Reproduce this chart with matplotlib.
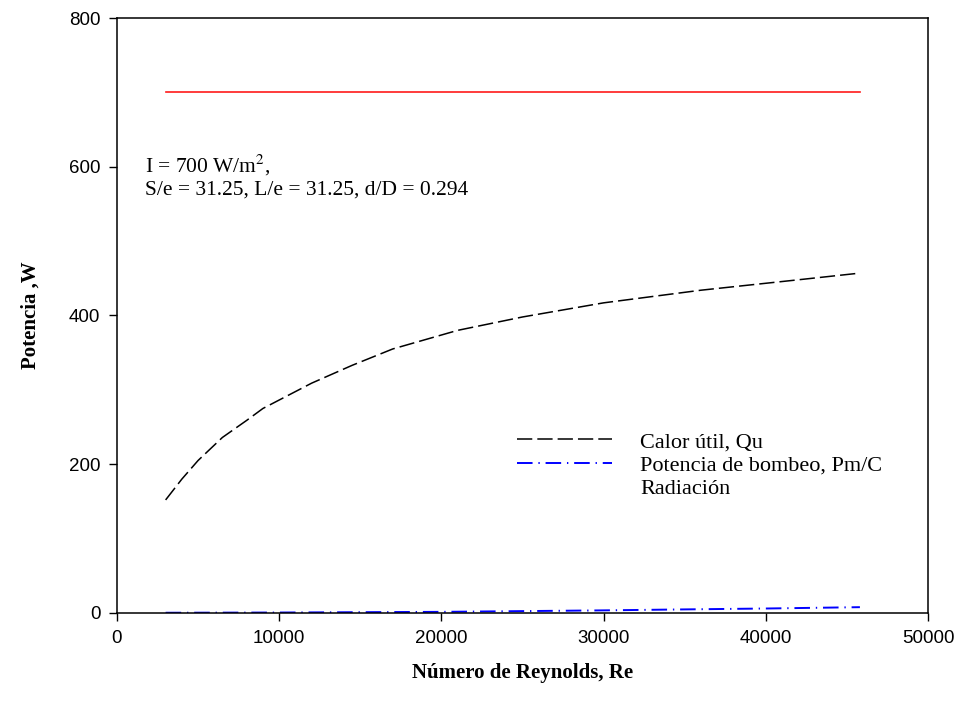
import numpy as np
import matplotlib
matplotlib.use("Agg")
import matplotlib.pyplot as plt
from matplotlib.lines import Line2D

# values
re_qu = [3000, 4000, 5000, 6500, 8000, 9000, 12000, 14500, 17000, 21000, 25000, 30000, 36000, 42000, 45800]
qu = [152, 180, 205, 236, 259, 275, 309, 333, 355, 380, 398, 417, 434, 448, 457]

re_pm = [3000, 10000, 20000, 25000, 30000, 35000, 40000, 45800]
pm = [0.3, 0.6, 1.5, 2.5, 3.5, 4.8, 6.0, 7.8]

re_rad = [3000, 45800]
rad = [700, 700]

serif = "Liberation Serif"
sans = "Liberation Sans"
plt.rcParams["mathtext.fontset"] = "stix"

fig = plt.figure(figsize=(9.61, 7.15), dpi=100)
ax = fig.add_axes([0.1217, 0.1427, 0.844, 0.8321])

ax.plot(re_rad, rad, color="#ff1a1a", lw=1.2)
l1, = ax.plot(re_qu, qu, color="black", lw=1.1, dashes=(10, 3.3))
l2, = ax.plot(re_pm, pm, color="#0000ff", lw=1.4, dashes=(8, 3, 0.7, 3))

ax.set_xlim(0, 50000)
ax.set_ylim(0, 800)
ax.set_xticks(np.arange(0, 50001, 10000))
ax.set_yticks(np.arange(0, 801, 200))
ax.tick_params(direction="out", length=6, width=1, labelsize=13.5, pad=6,
               top=False, right=False)
for lab in ax.get_xticklabels() + ax.get_yticklabels():
    lab.set_family(sans)
for s in ax.spines.values():
    s.set_linewidth(1.1)

ax.set_xlabel("Número de Reynolds, Re", family=serif, fontsize=15,
              fontweight="bold", labelpad=12)
ax.set_ylabel("Potencia ,W", family=serif, fontsize=15,
              fontweight="bold", labelpad=20)

ax.text(0.0345, 0.753, "I = 700 W/m$^2$,", transform=ax.transAxes,
        family=serif, fontsize=15.5, va="center")
ax.text(0.0345, 0.711, "S/e = 31.25, L/e = 31.25, d/D = 0.294",
        transform=ax.transAxes, family=serif, fontsize=15.5, va="center")

empty = Line2D([], [], linestyle="none")
ax.legend([l1, l2, empty],
          ["Calor útil, Qu", "Potencia de bombeo, Pm/C", "Radiación"],
          loc="upper left", bbox_to_anchor=(0.493, 0.305), frameon=False,
          borderaxespad=0, borderpad=0,
          prop={"family": serif, "size": 16}, handlelength=4.3,
          handletextpad=1.25, labelspacing=0.12)

fig.savefig("out.png", dpi=100)
